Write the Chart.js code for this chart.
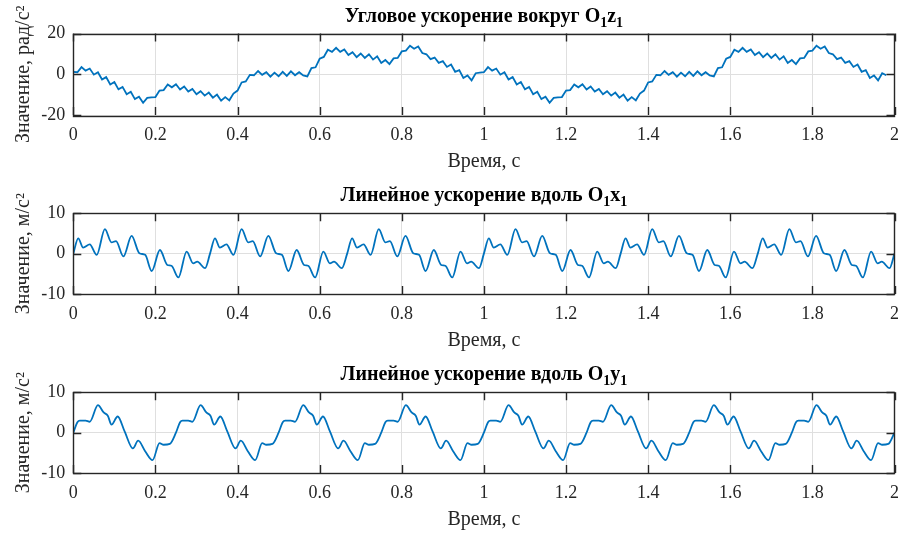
<!DOCTYPE html>
<html>
<head>
  <meta charset="UTF-8">
  <title>Ускорения</title>
  <script src="https://cdn.jsdelivr.net/npm/chart.js"></script>
  <style>
    body { margin: 0; background: #fff; }
    #wrap { position: relative; width: 900px; height: 533px; }
    canvas { position: absolute; left: 0; }
  </style>
</head>
<body>
<div id="wrap">
  <canvas id="c1" width="900" height="179" style="top:0"></canvas>
  <canvas id="c2" width="900" height="179" style="top:179px"></canvas>
  <canvas id="c3" width="900" height="175" style="top:358px"></canvas>
</div>

<script>
  // angular acceleration around O1z1, sampled every 0.01 s from 0 to 2 s
  const angStep = 0.01;
  const angValues = [
    1.2, 1.0, 3.5, 1.8, 2.8, -0.2, 1.0, -2.6, -1.4, -5.0,
    -3.8, -7.4, -6.2, -9.8, -8.6, -12.2, -11.0, -14.0, -11.6, -11.3,
    -11.2, -8.0, -7.8, -5.0, -6.4, -4.9, -7.5, -6.0, -8.5, -7.2,
    -9.8, -8.3, -10.5, -9.0, -11.5, -10.0, -13.0, -11.2, -12.8, -9.5,
    -8.0, -4.0, -3.5, -0.3, -0.5, 1.6, -0.3, 1.0, -1.2, 0.8,
    -1.0, 1.2, -0.8, 1.4, -0.5, 1.0, -0.6, -1.1, 3.0, 3.4,
    7.6, 8.5, 12.0, 11.0, 13.0, 11.0, 12.2, 9.4, 10.8, 8.4,
    10.2, 8.0, 9.8, 7.2, 8.8, 5.5, 7.0, 5.0, 7.8, 8.0,
    11.2, 11.6, 14.0, 12.5, 13.6, 10.4, 9.8, 7.4, 8.2, 5.6,
    6.4, 3.6, 4.8, 1.2, 2.0, -1.8, -0.6, -3.0, 0.5, 0.8,
    1.0, 3.5, 1.8, 2.8, -0.2, 1.0, -2.6, -1.4, -5.0,
    -3.8, -7.4, -6.2, -9.8, -8.6, -12.2, -11.0, -14.0, -11.6, -11.3,
    -11.2, -8.0, -7.8, -5.0, -6.4, -4.9, -7.5, -6.0, -8.5, -7.2,
    -9.8, -8.3, -10.5, -9.0, -11.5, -10.0, -13.0, -11.2, -12.8, -9.5,
    -8.0, -4.0, -3.5, -0.3, -0.5, 1.6, -0.3, 1.0, -1.2, 0.8,
    -1.0, 1.2, -0.8, 1.4, -0.5, 1.0, -0.6, -1.1, 3.0, 3.4,
    7.6, 8.5, 12.0, 11.0, 13.0, 11.0, 12.2, 9.4, 10.8, 8.4,
    10.2, 8.0, 9.8, 7.2, 8.8, 5.5, 7.0, 5.0, 7.8, 8.0,
    11.2, 11.6, 14.0, 12.5, 13.6, 10.4, 9.8, 7.4, 8.2, 5.6,
    6.4, 3.6, 4.8, 1.2, 2.0, -1.8, -0.6, -3.0, 0.5, -0.5
  ];

  // linear acceleration along O1x1 (turning points)
  const linXTimes = [
    0, 0.012, 0.024, 0.040, 0.057, 0.077, 0.093, 0.104, 0.122, 0.142, 0.161, 0.175, 0.191, 0.211, 0.229, 0.239, 0.256, 0.276, 0.292, 0.302, 0.321,
    0.333, 0.345, 0.357, 0.373, 0.390, 0.410, 0.426, 0.437, 0.455, 0.475, 0.494, 0.508, 0.524, 0.544, 0.562, 0.572, 0.589, 0.609, 0.625, 0.635, 0.654,
    0.667, 0.679, 0.691, 0.707, 0.724, 0.744, 0.760, 0.771, 0.789, 0.809, 0.828, 0.842, 0.858, 0.878, 0.896, 0.906, 0.923, 0.943, 0.959, 0.969, 0.988,
    1.000, 1.012, 1.024, 1.040, 1.057, 1.077, 1.093, 1.104, 1.122, 1.142, 1.161, 1.175, 1.191, 1.211, 1.229, 1.239, 1.256, 1.276, 1.292, 1.302, 1.321,
    1.333, 1.345, 1.357, 1.373, 1.390, 1.410, 1.426, 1.437, 1.455, 1.475, 1.494, 1.508, 1.524, 1.544, 1.562, 1.572, 1.589, 1.609, 1.625, 1.635, 1.654,
    1.667, 1.679, 1.691, 1.707, 1.724, 1.744, 1.760, 1.771, 1.789, 1.809, 1.828, 1.842, 1.858, 1.878, 1.896, 1.906, 1.923, 1.943, 1.959, 1.969, 1.988,
    2.000
  ];
  const linXValues = [
    0, 3.8, 1.5, 2.3, -0.3, 6.1, 2.8, 3.1, -0.7, 4.4, 0.1, -0.3, -4.3, 0.9, -2.8, -3.0, -5.9, 0.5, -2.4, -2.0, -3.6,
    0, 3.8, 1.5, 2.3, -0.3, 6.1, 2.8, 3.1, -0.7, 4.4, 0.1, -0.3, -4.3, 0.9, -2.8, -3.0, -5.9, 0.5, -2.4, -2.0, -3.6,
    0, 3.8, 1.5, 2.3, -0.3, 6.1, 2.8, 3.1, -0.7, 4.4, 0.1, -0.3, -4.3, 0.9, -2.8, -3.0, -5.9, 0.5, -2.4, -2.0, -3.6,
    0, 3.8, 1.5, 2.3, -0.3, 6.1, 2.8, 3.1, -0.7, 4.4, 0.1, -0.3, -4.3, 0.9, -2.8, -3.0, -5.9, 0.5, -2.4, -2.0, -3.6,
    0, 3.8, 1.5, 2.3, -0.3, 6.1, 2.8, 3.1, -0.7, 4.4, 0.1, -0.3, -4.3, 0.9, -2.8, -3.0, -5.9, 0.5, -2.4, -2.0, -3.6,
    0, 3.8, 1.5, 2.3, -0.3, 6.1, 2.8, 3.1, -0.7, 4.4, 0.1, -0.3, -4.3, 0.9, -2.8, -3.0, -5.9, 0.5, -2.4, -2.0, -3.6,
    0
  ];

  // linear acceleration along O1y1 (turning points)
  const linYTimes = [
    0, 0.010, 0.016, 0.030, 0.040, 0.060, 0.074, 0.084, 0.093, 0.108, 0.125, 0.145, 0.158, 0.175, 0.193, 0.210, 0.220, 0.235,
    0.250, 0.260, 0.266, 0.280, 0.290, 0.310, 0.324, 0.334, 0.343, 0.358, 0.375, 0.395, 0.408, 0.425, 0.443, 0.460, 0.470, 0.485,
    0.500, 0.510, 0.516, 0.530, 0.540, 0.560, 0.574, 0.584, 0.593, 0.608, 0.625, 0.645, 0.658, 0.675, 0.693, 0.710, 0.720, 0.735,
    0.750, 0.760, 0.766, 0.780, 0.790, 0.810, 0.824, 0.834, 0.843, 0.858, 0.875, 0.895, 0.908, 0.925, 0.943, 0.960, 0.970, 0.985,
    1.000, 1.010, 1.016, 1.030, 1.040, 1.060, 1.074, 1.084, 1.093, 1.108, 1.125, 1.145, 1.158, 1.175, 1.193, 1.210, 1.220, 1.235,
    1.250, 1.260, 1.266, 1.280, 1.290, 1.310, 1.324, 1.334, 1.343, 1.358, 1.375, 1.395, 1.408, 1.425, 1.443, 1.460, 1.470, 1.485,
    1.500, 1.510, 1.516, 1.530, 1.540, 1.560, 1.574, 1.584, 1.593, 1.608, 1.625, 1.645, 1.658, 1.675, 1.693, 1.710, 1.720, 1.735,
    1.750, 1.760, 1.766, 1.780, 1.790, 1.810, 1.824, 1.834, 1.843, 1.858, 1.875, 1.895, 1.908, 1.925, 1.943, 1.960, 1.970, 1.985,
    2.000
  ];
  const linYValues = [
    0, 2.6, 3.0, 3.0, 2.7, 6.8, 5.0, 4.2, 2.0, 4.0, 0.3, -3.9, -2.0, -4.6, -6.8, -2.6, -3.0, -2.8,
    0, 2.6, 3.0, 3.0, 2.7, 6.8, 5.0, 4.2, 2.0, 4.0, 0.3, -3.9, -2.0, -4.6, -6.8, -2.6, -3.0, -2.8,
    0, 2.6, 3.0, 3.0, 2.7, 6.8, 5.0, 4.2, 2.0, 4.0, 0.3, -3.9, -2.0, -4.6, -6.8, -2.6, -3.0, -2.8,
    0, 2.6, 3.0, 3.0, 2.7, 6.8, 5.0, 4.2, 2.0, 4.0, 0.3, -3.9, -2.0, -4.6, -6.8, -2.6, -3.0, -2.8,
    0, 2.6, 3.0, 3.0, 2.7, 6.8, 5.0, 4.2, 2.0, 4.0, 0.3, -3.9, -2.0, -4.6, -6.8, -2.6, -3.0, -2.8,
    0, 2.6, 3.0, 3.0, 2.7, 6.8, 5.0, 4.2, 2.0, 4.0, 0.3, -3.9, -2.0, -4.6, -6.8, -2.6, -3.0, -2.8,
    0, 2.6, 3.0, 3.0, 2.7, 6.8, 5.0, 4.2, 2.0, 4.0, 0.3, -3.9, -2.0, -4.6, -6.8, -2.6, -3.0, -2.8,
    0, 2.6, 3.0, 3.0, 2.7, 6.8, 5.0, 4.2, 2.0, 4.0, 0.3, -3.9, -2.0, -4.6, -6.8, -2.6, -3.0, -2.8,
    0
  ];

  const FONT = '"Liberation Serif", "Times New Roman", serif';
  const LINE = '#0072BD';
  const AXIS = '#262626';

  // title with subscripts + MATLAB-like box with inward ticks
  const matlabFrame = {
    id: 'matlabFrame',
    afterDraw(chart, args, opts) {
      const ctx = chart.ctx;
      const a = chart.chartArea;
      const xs = chart.scales.x, ys = chart.scales.y;
      ctx.save();
      ctx.strokeStyle = AXIS;
      ctx.lineWidth = 1.4;
      ctx.strokeRect(Math.round(a.left) + 0.5, Math.round(a.top) + 0.5,
        Math.round(a.right - a.left), Math.round(a.bottom - a.top));
      const tl = 8;
      ctx.beginPath();
      xs.ticks.forEach(t => {
        const px = Math.round(xs.getPixelForValue(t.value)) + 0.5;
        ctx.moveTo(px, a.bottom); ctx.lineTo(px, a.bottom - tl);
        ctx.moveTo(px, a.top); ctx.lineTo(px, a.top + tl);
      });
      ys.ticks.forEach(t => {
        const py = Math.round(ys.getPixelForValue(t.value)) + 0.5;
        ctx.moveTo(a.left, py); ctx.lineTo(a.left + tl, py);
        ctx.moveTo(a.right, py); ctx.lineTo(a.right - tl, py);
      });
      ctx.stroke();

      // title
      const big = 'bold 20px ' + FONT, small = 'bold 14px ' + FONT;
      let total = 0;
      opts.parts.forEach(p => { ctx.font = p[1] ? small : big; total += ctx.measureText(p[0]).width; });
      let x = (a.left + a.right) / 2 - total / 2;
      const base = a.top - 12;
      ctx.fillStyle = '#000';
      ctx.textBaseline = 'alphabetic';
      ctx.textAlign = 'left';
      opts.parts.forEach(p => {
        ctx.font = p[1] ? small : big;
        ctx.fillText(p[0], x, p[1] ? base + 5 : base);
        x += ctx.measureText(p[0]).width;
      });
      ctx.restore();
    }
  };

  function makeChart(id, points, yMax, yStep, yLabel, titleParts, xTitlePad, canvasH, top, mono) {
    const ctx = document.getElementById(id).getContext('2d');
    return new Chart(ctx, {
      type: 'line',
      data: {
        datasets: [{
          data: points,
          borderColor: LINE,
          borderWidth: 1.8,
          pointRadius: 0,
          fill: false,
          tension: mono ? 0.4 : 0,
          cubicInterpolationMode: mono ? 'monotone' : 'default'
        }]
      },
      plugins: [matlabFrame],
      options: {
        responsive: false,
        animation: false,
        devicePixelRatio: 1,
        layout: { padding: { top: top, right: 5.5, bottom: 0, left: 0 } },
        plugins: {
          legend: { display: false },
          tooltip: { enabled: false },
          matlabFrame: { parts: titleParts }
        },
        scales: {
          x: {
            type: 'linear',
            min: 0, max: 2,
            afterFit: s => {
              s.height = canvasH - 115;
              s.paddingLeft = 0;
              s.paddingRight = 0;
            },
            ticks: {
              stepSize: 0.2,
              padding: 9,
              color: AXIS,
              font: { family: FONT, size: 18 },
              maxRotation: 0,
              autoSkip: false,
              callback: v => String(Math.round(v * 10) / 10)
            },
            grid: { color: '#dfdfdf', lineWidth: 1, drawTicks: false },
            border: { display: false },
            title: {
              display: true,
              text: 'Время, с',
              color: AXIS,
              font: { family: FONT, size: 20 },
              padding: { top: 0, bottom: xTitlePad }
            }
          },
          y: {
            min: -yMax, max: yMax,
            afterFit: s => {
              s.width = 73.3;
              s.paddingTop = 0;
              s.paddingBottom = 0;
            },
            ticks: {
              stepSize: yStep,
              padding: 8,
              color: AXIS,
              font: { family: FONT, size: 18 }
            },
            grid: { color: '#dfdfdf', lineWidth: 1, drawTicks: false },
            border: { display: false },
            title: {
              display: true,
              text: yLabel,
              color: AXIS,
              font: { family: FONT, size: 20 },
              padding: { top: 12, bottom: 0 }
            }
          }
        }
      }
    });
  }

  const angPoints = angValues.map((v, i) => ({ x: i * angStep, y: v }));
  const linXPoints = linXTimes.map((t, i) => ({ x: t, y: linXValues[i] }));
  const linYPoints = linYTimes.map((t, i) => ({ x: t, y: linYValues[i] }));

  makeChart('c1', angPoints, 20, 20, 'Значение, рад/с²',
    [['Угловое ускорение вокруг O', false], ['1', true], ['z', false], ['1', true]], 5.7, 179, 33.5, false);
  makeChart('c2', linXPoints, 10, 10, 'Значение, м/с²',
    [['Линейное ускорение вдоль O', false], ['1', true], ['x', false], ['1', true]], 5.4, 179, 34.3, true);
  makeChart('c3', linYPoints, 10, 10, 'Значение, м/с²',
    [['Линейное ускорение вдоль O', false], ['1', true], ['y', false], ['1', true]], 1.7, 175, 34.3, true);
</script>
</body>
</html>
